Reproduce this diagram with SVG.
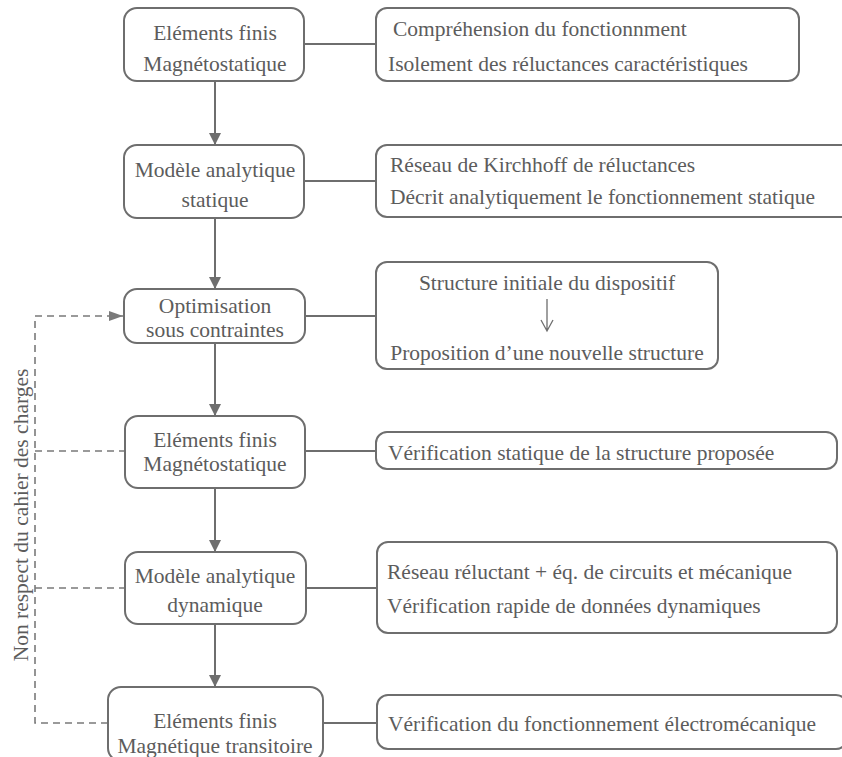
<svg xmlns="http://www.w3.org/2000/svg" width="842" height="757" viewBox="0 0 842 757">
<style>
.box{fill:#fff;stroke:#6e6e6e;stroke-width:2}
.t{font-family:'Liberation Serif','DejaVu Serif','Times New Roman',serif;font-size:21.5px;fill:#5c5c5c}
.c{text-anchor:middle}
.ln{stroke:#6e6e6e;stroke-width:2;fill:none}
.dash{stroke:#7a7a7a;stroke-width:1.6;fill:none;stroke-dasharray:7 5}
</style>
<defs>
<marker id="ah" markerWidth="12" markerHeight="14" refX="12" refY="6" orient="auto" markerUnits="userSpaceOnUse" viewBox="0 0 12 14">
<path d="M0,0 L12,6 L0,12 z" fill="#6e6e6e"/>
</marker>
<marker id="ah2" markerWidth="14" markerHeight="10" refX="14" refY="5" orient="auto" markerUnits="userSpaceOnUse" viewBox="0 0 14 10">
<path d="M0,0 L14,5 L0,10 z" fill="#7a7a7a"/>
</marker>
</defs>
<rect width="842" height="757" fill="#fff"/>
<g id="connectors">
<line class="ln" x1="215" y1="81" x2="215" y2="145" marker-end="url(#ah)"/>
<line class="ln" x1="215" y1="218" x2="215" y2="289" marker-end="url(#ah)"/>
<line class="ln" x1="215" y1="343" x2="215" y2="416" marker-end="url(#ah)"/>
<line class="ln" x1="215" y1="488" x2="215" y2="552" marker-end="url(#ah)"/>
<line class="ln" x1="215" y1="624" x2="215" y2="687" marker-end="url(#ah)"/>
<line class="ln" x1="304" y1="44" x2="376" y2="44"/>
<line class="ln" x1="304" y1="181" x2="376" y2="181"/>
<line class="ln" x1="305" y1="316" x2="376" y2="316"/>
<line class="ln" x1="305" y1="451" x2="376" y2="451"/>
<line class="ln" x1="306" y1="588" x2="377" y2="588"/>
<line class="ln" x1="323" y1="723" x2="377" y2="723"/>
<path class="dash" d="M108,723 H35 V316 H123" marker-end="url(#ah2)"/>
<line class="dash" x1="35" y1="451" x2="125" y2="451"/>
<line class="dash" x1="35" y1="588" x2="125" y2="588"/>
</g>
<g id="n1">
<rect class="box" x="124" y="8" width="180" height="73" rx="13"/>
<text class="t c" x="215" y="40">Eléments finis</text>
<text class="t c" x="215" y="71">Magnétostatique</text>
</g>
<g id="r1">
<rect class="box" x="376" y="8" width="423" height="73" rx="11"/>
<text class="t" x="393" y="36">Compréhension du fonctionnment</text>
<text class="t" x="388" y="71">Isolement des réluctances caractéristiques</text>
</g>
<g id="n2">
<rect class="box" x="124" y="145" width="180" height="73" rx="13"/>
<text class="t c" x="215" y="177">Modèle analytique</text>
<text class="t c" x="215" y="207">statique</text>
</g>
<g id="r2">
<rect class="box" x="376" y="145" width="480" height="72" rx="11"/>
<text class="t" x="390" y="172">Réseau de Kirchhoff de réluctances</text>
<text class="t" x="390" y="204">Décrit analytiquement le fonctionnement statique</text>
</g>
<g id="n3">
<rect class="box" x="124" y="289" width="181" height="54" rx="13"/>
<text class="t c" x="215" y="313">Optimisation</text>
<text class="t c" x="215" y="337">sous contraintes</text>
</g>
<g id="r3">
<rect class="box" x="376" y="262" width="342" height="107" rx="11"/>
<text class="t c" x="547" y="290">Structure initiale du dispositif</text>
<path d="M547,299 V331 M541,320 L547,331 L553,320" stroke="#6e6e6e" stroke-width="1.3" fill="none"/>
<text class="t c" x="547" y="360">Proposition d’une nouvelle structure</text>
</g>
<g id="n4">
<rect class="box" x="125" y="416" width="180" height="72" rx="13"/>
<text class="t c" x="215" y="447">Eléments finis</text>
<text class="t c" x="215" y="471">Magnétostatique</text>
</g>
<g id="r4">
<rect class="box" x="376" y="432" width="461" height="37" rx="11"/>
<text class="t" x="388" y="460">Vérification statique de la structure proposée</text>
</g>
<g id="n5">
<rect class="box" x="125" y="552" width="181" height="72" rx="13"/>
<text class="t c" x="215" y="583">Modèle analytique</text>
<text class="t c" x="215" y="612">dynamique</text>
</g>
<g id="r5">
<rect class="box" x="377" y="542" width="460" height="91" rx="11"/>
<text class="t" x="387" y="579">Réseau réluctant + éq. de circuits et mécanique</text>
<text class="t" x="387" y="613">Vérification rapide de données dynamiques</text>
</g>
<g id="n6">
<rect class="box" x="108" y="687" width="215" height="74" rx="13"/>
<text class="t c" x="215" y="728">Eléments finis</text>
<text class="t c" x="215" y="753">Magnétique transitoire</text>
</g>
<g id="r6">
<rect class="box" x="377" y="695" width="470" height="54" rx="11"/>
<text class="t" x="388" y="731">Vérification du fonctionnement électromécanique</text>
</g>
<g id="label">
<text class="t c" transform="translate(28,515) rotate(-90)">Non respect du cahier des charges</text>
</g>
</svg>
